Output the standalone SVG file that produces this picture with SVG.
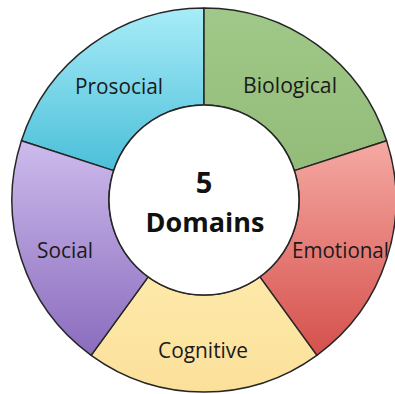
<svg xmlns="http://www.w3.org/2000/svg" width="395" height="394" viewBox="0 0 395 394">
  <style>
    .seg { stroke: #262626; stroke-width: 1.5; stroke-linejoin: round; }
    .lbl { font-family: "Open Sans", "Liberation Sans", sans-serif; font-size: 21px; fill: #1a1a1a; text-anchor: middle; }
    .core { font-family: "Open Sans", "Liberation Sans", sans-serif; font-weight: bold; fill: #111; text-anchor: middle; }
  </style>
  <defs>
    <linearGradient id="gProsocial" x1="0" y1="0" x2="0" y2="1">
      <stop offset="0" stop-color="#a8ecf8"/>
      <stop offset="1" stop-color="#4bbfd9"/>
    </linearGradient>
    <linearGradient id="gBiological" x1="0" y1="0" x2="0" y2="1">
      <stop offset="0" stop-color="#a0c888"/>
      <stop offset="1" stop-color="#93bc79"/>
    </linearGradient>
    <linearGradient id="gEmotional" x1="0" y1="0" x2="0" y2="1">
      <stop offset="0" stop-color="#f6a9a3"/>
      <stop offset="1" stop-color="#d5504c"/>
    </linearGradient>
    <linearGradient id="gCognitive" x1="0" y1="0" x2="0" y2="1">
      <stop offset="0" stop-color="#fee9aa"/>
      <stop offset="1" stop-color="#fbe09a"/>
    </linearGradient>
    <linearGradient id="gSocial" x1="0" y1="0" x2="0" y2="1">
      <stop offset="0" stop-color="#cdbbec"/>
      <stop offset="1" stop-color="#8a6cbe"/>
    </linearGradient>
    <clipPath id="ringClip">
      <circle cx="204" cy="200" r="191"/>
    </clipPath>
  </defs>

  <rect width="395" height="394" fill="#ffffff"/>

  <g id="prosocial">
    <path class="seg" fill="url(#gProsocial)" d="M21.40,140.67 A192,192 0 0 1 204,8 L204,105 A95,95 0 0 0 113.65,170.64 Z"/>
    <text class="lbl" x="119" y="94" textLength="88" lengthAdjust="spacingAndGlyphs">Prosocial</text>
  </g>

  <g id="biological">
    <path class="seg" fill="url(#gBiological)" d="M204,8 A192,192 0 0 1 386.60,140.67 L294.35,170.64 A95,95 0 0 0 204,105 Z"/>
    <text class="lbl" x="290" y="93" textLength="94" lengthAdjust="spacingAndGlyphs">Biological</text>
  </g>

  <g id="emotional">
    <path class="seg" fill="url(#gEmotional)" d="M386.60,140.67 A192,192 0 0 1 316.86,355.33 L259.84,276.86 A95,95 0 0 0 294.35,170.64 Z"/>
    <text class="lbl" x="292" y="258" style="text-anchor:start" textLength="97" lengthAdjust="spacingAndGlyphs" clip-path="url(#ringClip)">Emotional</text>
  </g>

  <g id="cognitive">
    <path class="seg" fill="url(#gCognitive)" d="M316.86,355.33 A192,192 0 0 1 91.14,355.33 L148.16,276.86 A95,95 0 0 0 259.84,276.86 Z"/>
    <text class="lbl" x="203" y="358" textLength="90" lengthAdjust="spacingAndGlyphs">Cognitive</text>
  </g>

  <g id="social">
    <path class="seg" fill="url(#gSocial)" d="M91.14,355.33 A192,192 0 0 1 21.40,140.67 L113.65,170.64 A95,95 0 0 0 148.16,276.86 Z"/>
    <text class="lbl" x="65" y="258" textLength="56" lengthAdjust="spacingAndGlyphs">Social</text>
  </g>

  <g id="core">
    <circle class="seg" cx="204" cy="200" r="95" fill="#ffffff"/>
    <text class="core" x="204" y="193" font-size="29">5</text>
    <text class="core" x="205" y="232" font-size="27">Domains</text>
  </g>

  <g id="connectors"/>
</svg>
